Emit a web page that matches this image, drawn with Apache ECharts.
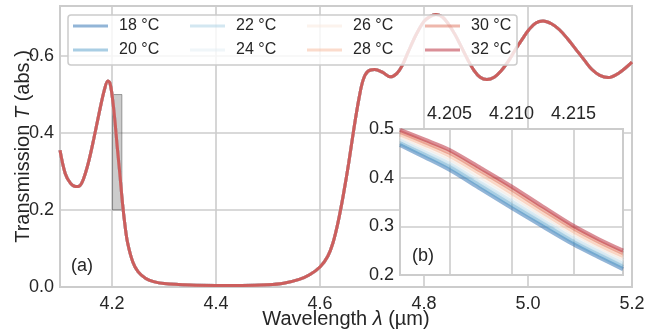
<!DOCTYPE html>
<html>
<head>
<meta charset="utf-8">
<script src="https://cdn.jsdelivr.net/npm/echarts@6/dist/echarts.min.js"></script>
<style>html,body{margin:0;padding:0;background:#fff}#c{width:646px;height:331px}</style>
</head>
<body>
<div id="c"></div>
<script>
// ---- data ----
const temperatures = ['18 °C','20 °C','22 °C','24 °C','26 °C','28 °C','30 °C','32 °C'];

const mainWavelength = [4.100,4.110,4.120,4.130,4.137,4.145,4.155,4.165,4.175,4.185,4.192,4.196,4.200,4.205,4.210,4.215,4.220,4.225,4.230,4.240,4.250,4.265,4.280,4.300,4.350,4.400,4.450,4.500,4.530,4.560,4.580,4.600,4.615,4.625,4.635,4.645,4.655,4.665,4.675,4.683,4.692,4.705,4.720,4.735,4.748,4.758,4.770,4.785,4.800,4.812,4.823,4.835,4.847,4.860,4.872,4.884,4.896,4.908,4.921,4.935,4.948,4.962,4.975,4.989,5.002,5.015,5.029,5.045,5.060,5.076,5.092,5.108,5.123,5.138,5.154,5.175,5.200];
const mainT          = [0.355,0.295,0.270,0.261,0.262,0.280,0.325,0.385,0.450,0.510,0.535,0.530,0.500,0.440,0.365,0.295,0.220,0.160,0.115,0.065,0.040,0.022,0.014,0.009,0.005,0.004,0.004,0.006,0.010,0.020,0.032,0.052,0.080,0.115,0.170,0.240,0.320,0.410,0.490,0.538,0.560,0.565,0.558,0.546,0.555,0.575,0.612,0.656,0.690,0.703,0.708,0.702,0.683,0.655,0.623,0.591,0.563,0.545,0.539,0.545,0.561,0.586,0.615,0.644,0.669,0.686,0.691,0.684,0.669,0.645,0.6175,0.590,0.565,0.550,0.544,0.556,0.584];

const insetWavelength = [4.201,4.203,4.205,4.2075,4.210,4.2125,4.215,4.217,4.219];
const inset18 = [0.467,0.442,0.416,0.377,0.338,0.300,0.263,0.237,0.212];
const inset20 = [0.471,0.447,0.422,0.383,0.344,0.306,0.268,0.242,0.217];
const inset22 = [0.476,0.452,0.428,0.389,0.351,0.312,0.274,0.248,0.223];
const inset24 = [0.480,0.457,0.434,0.395,0.357,0.318,0.279,0.253,0.228];
const inset26 = [0.485,0.463,0.439,0.402,0.363,0.323,0.285,0.258,0.234];
const inset28 = [0.489,0.468,0.445,0.408,0.369,0.329,0.290,0.263,0.239];
const inset30 = [0.494,0.473,0.451,0.414,0.376,0.335,0.296,0.269,0.245];
const inset32 = [0.498,0.478,0.457,0.420,0.382,0.341,0.301,0.274,0.250];
const insetSeries = [inset18,inset20,inset22,inset24,inset26,inset28,inset30,inset32];

const mainXTicks = [4.2,4.4,4.6,4.8,5.0,5.2];
const insetXTicks = [4.205,4.210,4.215];
const zoomBox = {x0: 4.201, x1: 4.219, y0: 0.2, y1: 0.5};

// ---- styles ----
const colors = ['rgba(37,107,175,0.5)','rgba(84,158,201,0.5)','rgba(167,208,228,0.5)','rgba(226,237,243,0.5)',
                'rgba(250,231,220,0.5)','rgba(247,183,153,0.5)','rgba(221,111,89,0.5)','rgba(182,32,47,0.5)'];
const FONT = '"Liberation Sans", Arial, sans-serif';
const TXT = '#262626';
const GRID = '#cccccc';

const chart = echarts.init(document.getElementById('c'), null, {renderer: 'canvas'});

const series = [];
series.push({
  type: 'line', xAxisIndex: 0, yAxisIndex: 0, data: [], z: 1, silent: true,
  markArea: {
    silent: true,
    itemStyle: {color: 'rgba(128,128,128,0.4)', borderColor: 'rgba(60,60,60,0.45)', borderWidth: 1},
    data: [[{coord: [zoomBox.x0, zoomBox.y1]}, {coord: [zoomBox.x1, zoomBox.y0]}]]
  }
});
temperatures.forEach((t, i) => {
  series.push({
    name: t, type: 'line', xAxisIndex: 0, yAxisIndex: 0, z: 2,
    data: mainWavelength.map((x, k) => [x, mainT[k]]),
    showSymbol: false, symbol: 'none', smooth: 0.35,
    color: colors[i], lineStyle: {width: 3, color: colors[i]}
  });
});
temperatures.forEach((t, i) => {
  series.push({
    name: t, type: 'line', xAxisIndex: 1, yAxisIndex: 1, z: 5,
    data: insetWavelength.map((x, k) => [x, insetSeries[i][k]]),
    showSymbol: false, symbol: 'none', smooth: 0.3,
    color: colors[i], lineStyle: {width: 4, color: colors[i]}
  });
});

const legendLefts = [73, 190, 307, 425];
const legends = legendLefts.map((l, c) => ({
  data: [temperatures[2*c], temperatures[2*c+1]],
  orient: 'vertical', left: l, top: 17, itemGap: 6, padding: 0,
  itemWidth: 35, itemHeight: 3, icon: 'rect', z: 7, selectedMode: false,
  textStyle: {fontSize: 16, lineHeight: 18, color: TXT, fontFamily: FONT, padding: [0,0,0,6]}
}));

const tickLabel = {fontSize: 18, color: TXT, fontFamily: FONT};

chart.setOption({
  animation: false,
  backgroundColor: '#fff',
  grid: [
    {left: 60, top: 6, right: 14, bottom: 44, show: true, borderColor: GRID, borderWidth: 2, backgroundColor: 'transparent', containLabel: false, outerBoundsMode: 'none'},
    {left: 400, top: 129, width: 223, height: 146, show: true, borderColor: GRID, borderWidth: 2, backgroundColor: '#fff', z: 3, containLabel: false, outerBoundsMode: 'none'}
  ],
  xAxis: [
    {type: 'value', gridIndex: 0, min: 4.1, max: 5.2, z: 0,
     name: '{n|Wavelength }{i|λ}{n| (µm)}', nameLocation: 'middle', nameGap: 22, nameMoveOverlap: false,
     nameTextStyle: {rich: {n: {fontSize: 20, color: TXT, fontFamily: FONT}, i: {fontSize: 20, color: TXT, fontFamily: FONT, fontStyle: 'italic'}}},
     axisLine: {show: false}, axisTick: {show: false, customValues: mainXTicks},
     axisLabel: Object.assign({customValues: mainXTicks, margin: 8, formatter: v => v.toFixed(1)}, tickLabel),
     splitLine: {show: true, lineStyle: {color: GRID, width: 1.6}}},
    {type: 'value', gridIndex: 1, min: 4.201, max: 4.219, position: 'top', z: 4,
     axisLine: {show: false}, axisTick: {show: false, customValues: insetXTicks},
     axisLabel: Object.assign({customValues: insetXTicks, margin: 6, formatter: v => v.toFixed(3)}, tickLabel),
     splitLine: {show: true, lineStyle: {color: GRID, width: 1.6}}}
  ],
  yAxis: [
    {type: 'value', gridIndex: 0, min: 0, max: 0.73, interval: 0.2, z: 0,
     name: '{n|Transmission }{i|T}{n| (abs.)}', nameLocation: 'middle', nameGap: 27, nameMoveOverlap: false,
     nameTextStyle: {rich: {n: {fontSize: 20, color: TXT, fontFamily: FONT}, i: {fontSize: 20, color: TXT, fontFamily: FONT, fontStyle: 'italic'}}},
     axisLine: {show: false}, axisTick: {show: false},
     axisLabel: Object.assign({margin: 6, showMaxLabel: false, formatter: v => v.toFixed(1)}, tickLabel),
     splitLine: {show: true, lineStyle: {color: GRID, width: 1.6}}},
    {type: 'value', gridIndex: 1, min: 0.2, max: 0.5, interval: 0.1, z: 4,
     axisLine: {show: false}, axisTick: {show: false},
     axisLabel: Object.assign({margin: 6, formatter: v => v.toFixed(1)}, tickLabel),
     splitLine: {show: true, lineStyle: {color: GRID, width: 1.6}}}
  ],
  legend: legends,
  graphic: [
    {type: 'rect', z: 6, shape: {x: 68, y: 15, width: 449, height: 50, r: 3},
     style: {fill: 'rgba(255,255,255,0.8)', stroke: GRID, lineWidth: 1.5}},
    {type: 'text', z: 6, left: 71, top: 257, style: {text: '(a)', fontSize: 18, fill: TXT, fontFamily: FONT}},
    {type: 'text', z: 8, left: 412, top: 247, style: {text: '(b)', fontSize: 18, fill: TXT, fontFamily: FONT}}
  ],
  series: series
});
</script>
</body>
</html>
